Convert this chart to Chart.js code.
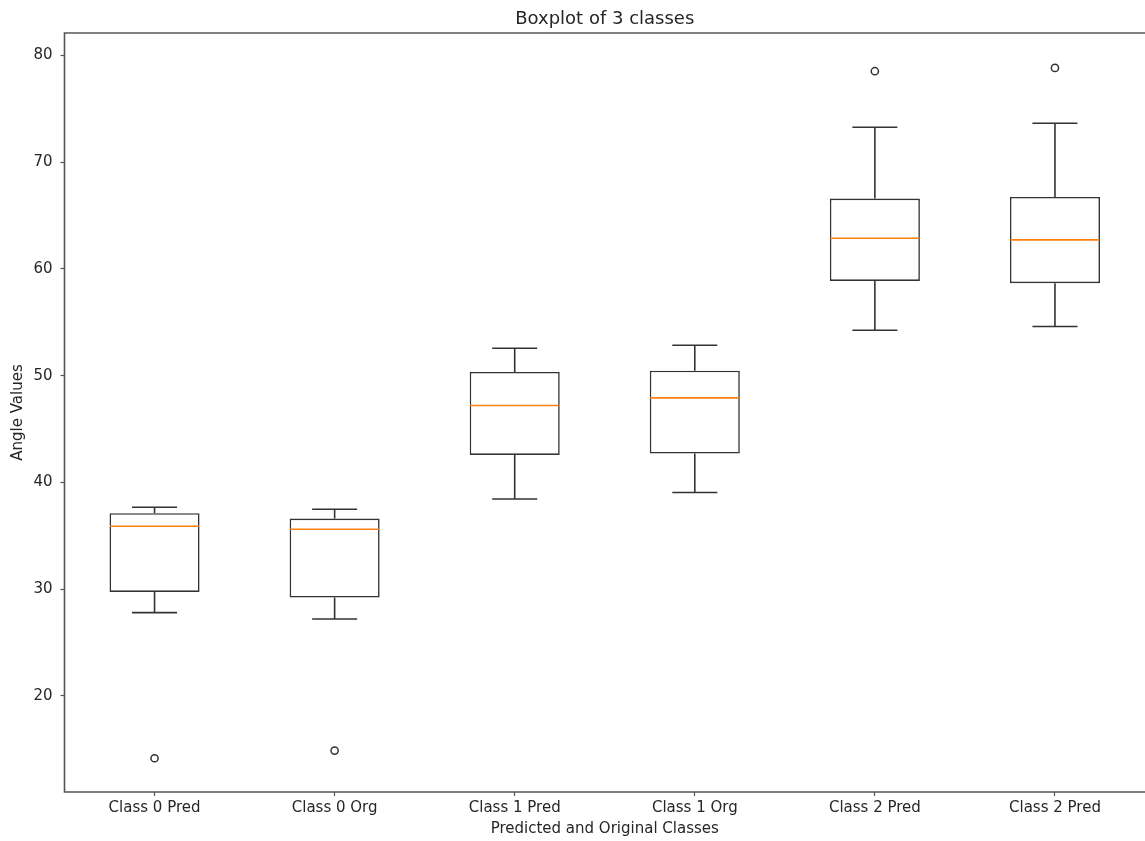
<!DOCTYPE html>
<html>
<head>
<meta charset="utf-8">
<script src="https://cdn.jsdelivr.net/npm/chart.js@4/dist/chart.umd.min.js"></script>
<style>
  html, body { margin: 0; padding: 0; background: #fff; }
  #wrap { width: 1145px; height: 841px; }
</style>
</head>
<body>
<div id="wrap"><canvas id="c" width="1145" height="841"></canvas></div>
<script>
const categories = ['Class 0 Pred', 'Class 0 Org', 'Class 1 Pred', 'Class 1 Org', 'Class 2 Pred', 'Class 2 Pred'];
const whiskerLow  = [27.8, 27.2, 38.45, 39.05, 54.26, 54.6];
const q1Values    = [29.74, 29.21, 42.58, 42.7, 58.88, 58.66];
const medians     = [35.9, 35.61, 47.2, 47.92, 62.87, 62.72];
const q3Values    = [37.11, 36.61, 50.35, 50.47, 66.59, 66.74];
const whiskerHigh = [37.68, 37.49, 52.57, 52.85, 73.27, 73.64];
const outliers    = [14.16, 14.88, null, null, 78.52, 78.83];
const yTickValues = [20, 30, 40, 50, 60, 70, 80];
const chartTitle  = 'Boxplot of 3 classes';

const LINE = '#333333';
const TEXT = '#262626';
const FONT = "'DejaVu Sans', sans-serif";
const LW = 1.6;

const boxPlugin = {
  id: 'boxParts',
  beforeDatasetsDraw(chart) {
    const ctx = chart.ctx;
    const xs = chart.scales.x, ys = chart.scales.y;
    const slot = xs.width / categories.length;
    const capHalf = slot * 0.25 * 0.5;
    ctx.save();
    ctx.strokeStyle = LINE;
    ctx.lineWidth = LW;
    categories.forEach((c, i) => {
      const x = xs.getPixelForValue(i);
      const yl = ys.getPixelForValue(whiskerLow[i]);
      const y1 = ys.getPixelForValue(q1Values[i]);
      const y3 = ys.getPixelForValue(q3Values[i]);
      const yh = ys.getPixelForValue(whiskerHigh[i]);
      ctx.beginPath();
      ctx.moveTo(x, y1); ctx.lineTo(x, yl);
      ctx.moveTo(x - capHalf, yl); ctx.lineTo(x + capHalf, yl);
      ctx.moveTo(x, y3); ctx.lineTo(x, yh);
      ctx.moveTo(x - capHalf, yh); ctx.lineTo(x + capHalf, yh);
      ctx.stroke();
    });
    ctx.restore();
  },
  afterDatasetsDraw(chart) {
    const ctx = chart.ctx;
    const xs = chart.scales.x, ys = chart.scales.y;
    const slot = xs.width / categories.length;
    const half = slot * 0.5 * 0.5;
    ctx.save();
    ctx.strokeStyle = '#ff7f0e';
    ctx.lineWidth = LW;
    categories.forEach((c, i) => {
      const x = xs.getPixelForValue(i);
      const ym = ys.getPixelForValue(medians[i]);
      ctx.beginPath();
      ctx.moveTo(x - half + 0.5, ym); ctx.lineTo(x + half - 0.5, ym);
      ctx.stroke();
    });
    // spines: left, top, bottom (right spine lies beyond the picture edge)
    const a = chart.chartArea;
    ctx.strokeStyle = '#555555';
    ctx.lineWidth = 1.6;
    ctx.beginPath();
    ctx.moveTo(a.right + 2, a.top); ctx.lineTo(a.left, a.top);
    ctx.lineTo(a.left, a.bottom); ctx.lineTo(a.right + 2, a.bottom);
    ctx.stroke();
    ctx.restore();
  }
};

new Chart(document.getElementById('c'), {
  type: 'bar',
  data: {
    labels: categories,
    datasets: [
      {
        type: 'bar',
        xAxisID: 'x',
        yAxisID: 'y',
        data: q1Values.map((v, i) => [v, q3Values[i]]),
        backgroundColor: '#ffffff',
        borderColor: LINE,
        borderWidth: LW,
        borderSkipped: false,
        barPercentage: 0.5,
        categoryPercentage: 1.0
      },
      {
        type: 'line',
        xAxisID: 'x',
        yAxisID: 'y',
        data: outliers,
        showLine: false,
        pointRadius: 3.6,
        pointBorderWidth: 1.5,
        pointBorderColor: LINE,
        pointBackgroundColor: 'rgba(0,0,0,0)'
      }
    ]
  },
  options: {
    responsive: false,
    animation: false,
    layout: { autoPadding: false, padding: { top: 0, left: 0, right: 0, bottom: 0 } },
    plugins: {
      legend: { display: false },
      tooltip: { enabled: false },
      title: { display: false }
    },
    scales: {
      x: {
        type: 'category',
        offset: true,
        afterFit(s) { s.height = 49; },
        grid: { display: true, drawOnChartArea: false, offset: false, tickLength: 4, tickColor: '#555555', tickWidth: 1.2 },
        border: { display: false },
        ticks: { color: TEXT, font: { family: FONT, size: 15 }, padding: 3, maxRotation: 0, autoSkip: false },
        title: {
          display: true, text: 'Predicted and Original Classes', color: TEXT,
          font: { family: FONT, size: 15 }, padding: { top: 0, bottom: 3 }
        }
      },
      xTop: {
        type: 'linear',
        position: 'top',
        display: true,
        afterFit(s) { s.height = 33; },
        grid: { display: false, drawTicks: false },
        border: { display: false },
        ticks: { display: false },
        title: {
          display: true, text: chartTitle, color: TEXT,
          font: { family: FONT, size: 18, lineHeight: 1.2 }, padding: { top: 8.2, bottom: 0 }
        }
      },
      y: {
        type: 'linear',
        min: 11.0,
        max: 82.1,
        afterFit(s) { s.width = 64.5; },
        afterBuildTicks(s) { s.ticks = yTickValues.map(v => ({ value: v })); },
        grid: { display: true, drawOnChartArea: false, tickLength: 4, tickColor: '#555555', tickWidth: 1.2 },
        border: { display: false },
        ticks: { color: TEXT, font: { family: FONT, size: 15 }, padding: 8 },
        title: {
          display: true, text: 'Angle Values', color: TEXT,
          font: { family: FONT, size: 15 }, padding: { top: 9, bottom: 0 }
        }
      }
    }
  },
  plugins: [boxPlugin]
});
</script>
</body>
</html>
